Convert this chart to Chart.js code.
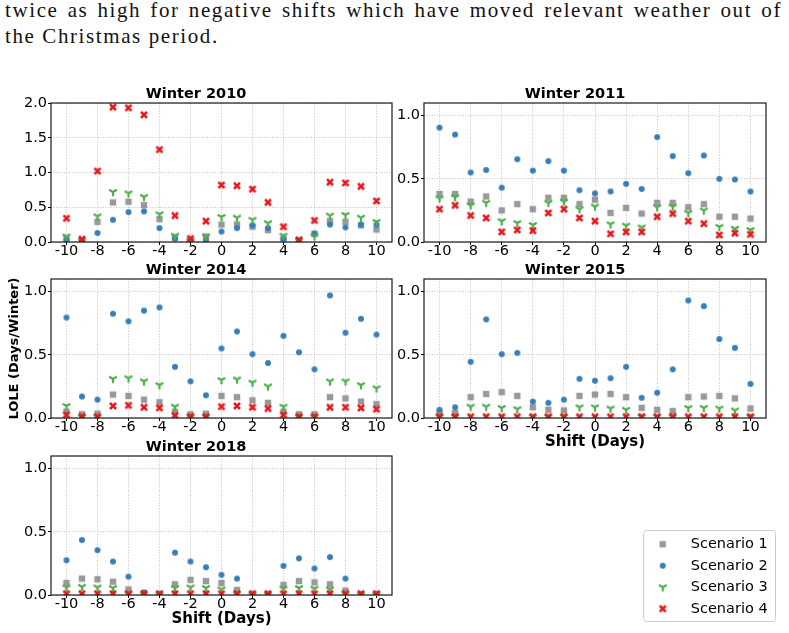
<!DOCTYPE html>
<html>
<head>
<meta charset="utf-8">
<script src="https://cdn.jsdelivr.net/npm/chart.js@4.4.0/dist/chart.umd.min.js"></script>
<style>
  html, body { margin: 0; padding: 0; background: #fff; }
  body { width: 789px; height: 633px; position: relative; overflow: hidden; }
  .para { position: absolute; left: 5px; width: 777px; font-family: 'Liberation Serif', serif; font-size: 21px; line-height: 26px; letter-spacing: 1.6px; color: #111; white-space: nowrap; }
  .line1 { top: -3px; text-align: justify; text-align-last: justify; }
  .line2 { top: 23px; }
  canvas { position: absolute; }
</style>
</head>
<body>
<div class="para line1">twice as high for negative shifts which have moved relevant weather out of</div>
<div class="para line2">the Christmas period.</div>

<canvas id="c2010" width="400" height="183" style="left:0px;top:83px"></canvas>
<canvas id="c2011" width="392" height="183" style="left:384px;top:83px"></canvas>
<canvas id="c2014" width="400" height="183" style="left:0px;top:259px"></canvas>
<canvas id="c2015" width="392" height="193" style="left:384px;top:259px"></canvas>
<canvas id="c2018" width="400" height="193" style="left:0px;top:436px"></canvas>
<canvas id="legendBox" width="150" height="99" style="left:635px;top:527px"></canvas>

<script>
// shift in days, one value per point
const shifts = [-10, -9, -8, -7, -6, -5, -4, -3, -2, -1, 0, 1, 2, 3, 4, 5, 6, 7, 8, 9, 10]
const xTicks = [-10, -8, -6, -4, -2, 0, 2, 4, 6, 8, 10]
const yTicks2010 = [0, 0.5, 1.0, 1.5, 2.0]
const yTicks = [0, 0.5, 1.0]

const scenarioNames = ['Scenario 1', 'Scenario 2', 'Scenario 3', 'Scenario 4']
const scenarioColors = ['#999999', '#377eb8', '#4daf4a', '#e41a1c']

// LOLE (days/winter)
const w2010s1 = [0.05, 0.02, 0.29, 0.57, 0.58, 0.53, 0.33, 0.06, 0.02, 0.08, 0.25, 0.25, 0.22, 0.17, 0.05, 0.02, 0.12, 0.30, 0.29, 0.24, 0.18]
const w2010s2 = [0.03, 0.01, 0.13, 0.32, 0.43, 0.44, 0.20, 0.05, 0.01, 0.02, 0.15, 0.20, 0.24, 0.20, 0.04, 0.01, 0.12, 0.25, 0.21, 0.25, 0.25]
const w2010s3 = [0.08, 0.02, 0.37, 0.72, 0.70, 0.65, 0.40, 0.09, 0.02, 0.08, 0.36, 0.35, 0.32, 0.27, 0.09, 0.02, 0.08, 0.38, 0.39, 0.35, 0.29]
const w2010s4 = [0.34, 0.04, 1.02, 1.94, 1.93, 1.83, 1.33, 0.38, 0.05, 0.30, 0.82, 0.81, 0.76, 0.57, 0.22, 0.03, 0.31, 0.86, 0.85, 0.80, 0.59]

const w2011s1 = [0.38, 0.38, 0.32, 0.36, 0.25, 0.30, 0.26, 0.35, 0.35, 0.30, 0.335, 0.23, 0.27, 0.225, 0.31, 0.31, 0.275, 0.30, 0.20, 0.20, 0.185]
const w2011s2 = [0.905, 0.85, 0.55, 0.57, 0.43, 0.655, 0.565, 0.64, 0.565, 0.41, 0.385, 0.40, 0.46, 0.42, 0.83, 0.68, 0.545, 0.685, 0.50, 0.495, 0.40]
const w2011s3 = [0.345, 0.355, 0.29, 0.31, 0.165, 0.15, 0.135, 0.31, 0.32, 0.26, 0.28, 0.14, 0.13, 0.115, 0.275, 0.28, 0.23, 0.25, 0.12, 0.105, 0.095]
const w2011s4 = [0.26, 0.29, 0.21, 0.19, 0.08, 0.095, 0.09, 0.23, 0.26, 0.19, 0.165, 0.065, 0.08, 0.08, 0.20, 0.225, 0.165, 0.145, 0.055, 0.07, 0.06]

const w2014s1 = [0.05, 0.03, 0.035, 0.185, 0.175, 0.145, 0.125, 0.05, 0.03, 0.035, 0.175, 0.165, 0.14, 0.12, 0.05, 0.03, 0.03, 0.165, 0.155, 0.13, 0.11]
const w2014s2 = [0.795, 0.17, 0.145, 0.825, 0.765, 0.85, 0.875, 0.405, 0.29, 0.18, 0.55, 0.685, 0.505, 0.435, 0.65, 0.52, 0.385, 0.97, 0.675, 0.785, 0.66]
const w2014s3 = [0.095, 0.01, 0.01, 0.31, 0.315, 0.29, 0.26, 0.09, 0.01, 0.01, 0.30, 0.305, 0.28, 0.25, 0.09, 0.01, 0.01, 0.29, 0.29, 0.26, 0.235]
const w2014s4 = [0.025, 0.01, 0.01, 0.095, 0.10, 0.085, 0.08, 0.02, 0.01, 0.01, 0.09, 0.095, 0.085, 0.075, 0.025, 0.01, 0.01, 0.085, 0.085, 0.08, 0.07]

const w2015s1 = [0.04, 0.04, 0.165, 0.19, 0.205, 0.175, 0.085, 0.065, 0.06, 0.175, 0.185, 0.19, 0.165, 0.08, 0.065, 0.055, 0.165, 0.17, 0.175, 0.155, 0.075]
const w2015s2 = [0.065, 0.085, 0.445, 0.78, 0.505, 0.515, 0.13, 0.12, 0.145, 0.31, 0.295, 0.315, 0.405, 0.16, 0.20, 0.385, 0.93, 0.885, 0.625, 0.555, 0.27]
const w2015s3 = [0.01, 0.01, 0.09, 0.09, 0.08, 0.07, 0.01, 0.01, 0.01, 0.085, 0.085, 0.075, 0.065, 0.01, 0.01, 0.01, 0.08, 0.08, 0.075, 0.06, 0.01]
const w2015s4 = [0.01, 0.01, 0.01, 0.01, 0.01, 0.01, 0.01, 0.01, 0.01, 0.01, 0.01, 0.01, 0.01, 0.01, 0.01, 0.01, 0.01, 0.01, 0.01, 0.01, 0.01]

const w2018s1 = [0.095, 0.13, 0.125, 0.105, 0.045, 0.01, 0.005, 0.085, 0.12, 0.11, 0.095, 0.04, 0.005, 0.005, 0.08, 0.11, 0.10, 0.085, 0.035, 0.005, 0.005]
const w2018s2 = [0.275, 0.435, 0.355, 0.265, 0.145, 0.02, 0.005, 0.335, 0.265, 0.22, 0.16, 0.13, 0.005, 0.005, 0.23, 0.29, 0.21, 0.30, 0.13, 0.005, 0.005]
const w2018s3 = [0.06, 0.065, 0.06, 0.055, 0.01, 0.005, 0.005, 0.055, 0.06, 0.055, 0.045, 0.01, 0.005, 0.005, 0.05, 0.055, 0.05, 0.045, 0.01, 0.005, 0.005]
const w2018s4 = [0.01, 0.01, 0.01, 0.01, 0.01, 0.01, 0.01, 0.01, 0.01, 0.01, 0.01, 0.01, 0.01, 0.01, 0.01, 0.01, 0.01, 0.01, 0.01, 0.01, 0.01]

Chart.defaults.font.family = "'DejaVu Sans', sans-serif"
Chart.defaults.color = '#000'

// matplotlib-like markers: square, circle, tri_down, X
function makeMarker(kind, color) {
  const c = document.createElement('canvas')
  c.width = 12
  c.height = 12
  const g = c.getContext('2d')
  const m = 6
  g.fillStyle = color
  g.strokeStyle = color
  if (kind === 0) {
    g.fillRect(m - 3.2, m - 3.2, 6.4, 6.4)
  } else if (kind === 1) {
    g.beginPath()
    g.arc(m, m, 3, 0, Math.PI * 2)
    g.fill()
  } else if (kind === 2) {
    g.lineWidth = 2.2
    g.beginPath()
    g.moveTo(m, m); g.lineTo(m, m + 4.2)
    g.moveTo(m, m); g.lineTo(m - 3.8, m - 2.3)
    g.moveTo(m, m); g.lineTo(m + 3.8, m - 2.3)
    g.stroke()
  } else {
    g.lineWidth = 2.5
    g.beginPath()
    g.moveTo(m - 3, m - 3); g.lineTo(m + 3, m + 3)
    g.moveTo(m + 3, m - 3); g.lineTo(m - 3, m + 3)
    g.stroke()
  }
  return c
}
const markers = scenarioColors.map((col, i) => makeMarker(i, col))

const framePlugin = {
  id: 'frame',
  afterDatasetsDraw(chart) {
    const { ctx, chartArea: a } = chart
    ctx.save()
    ctx.strokeStyle = '#1a1a1a'
    ctx.lineWidth = 1.2
    ctx.strokeRect(a.left, a.top, a.right - a.left, a.bottom - a.top)
    ctx.restore()
  },
}

function buildPanel(id, title, series, yMax, yTickValues, cfg) {
  const datasets = series.map((vals, i) => ({
    label: scenarioNames[i],
    data: shifts.map((s, k) => ({ x: s, y: vals[k] })),
    pointStyle: markers[i],
    pointRadius: 4,
    order: 3 - i,
    clip: 0,
  }))

  new Chart(document.getElementById(id), {
    type: 'scatter',
    data: { datasets },
    options: {
      responsive: false,
      animation: false,
      events: [],
      layout: { padding: { left: 0, right: cfg.padRight, top: 0, bottom: 0 } },
      plugins: {
        legend: { display: false },
        tooltip: { enabled: false },
        title: {
          display: true,
          text: title,
          color: '#000',
          font: { size: 14.5, weight: 'bold', lineHeight: 1 },
          padding: { top: 3.5, bottom: 2 },
        },
      },
      scales: {
        x: {
          type: 'linear',
          min: -11,
          max: 11,
          afterBuildTicks: (axis) => { axis.ticks = xTicks.map((v) => ({ value: v })) },
          afterFit: (axis) => { axis.height = cfg.xH },
          ticks: {
            font: { size: 14.5, lineHeight: 1 },
            color: '#000',
            padding: -1,
            maxRotation: 0,
            callback: (v) => String(v),
          },
          grid: { color: '#b5b5b5', lineWidth: 0.8, tickLength: 3, tickColor: '#000', tickWidth: 1, tickBorderDash: [] },
          border: { display: false, dash: [1, 1.6] },
          title: cfg.xTitle ? {
            display: true,
            text: 'Shift (Days)',
            color: '#000',
            font: { size: 15, weight: 'bold', lineHeight: 1 },
            padding: { top: 0, bottom: 2.5 },
          } : { display: false },
        },
        y: {
          type: 'linear',
          min: 0,
          max: yMax,
          afterBuildTicks: (axis) => { axis.ticks = yTickValues.map((v) => ({ value: v })) },
          afterFit: (axis) => { axis.width = cfg.yW },
          ticks: {
            font: { size: 14.5 },
            color: '#000',
            padding: 1,
            callback: (v) => v.toFixed(1),
          },
          grid: { color: '#b5b5b5', lineWidth: 0.8, tickLength: 3, tickColor: '#000', tickWidth: 1, tickBorderDash: [] },
          border: { display: false, dash: [1, 1.6] },
          title: cfg.yTitle ? {
            display: true,
            text: 'LOLE (Days/Winter)',
            color: '#000',
            font: { size: 13, weight: 'bold', lineHeight: 1 },
            padding: { top: 8.5, bottom: 0 },
          } : { display: false },
        },
      },
    },
    plugins: [framePlugin],
  })
}

buildPanel('c2010', 'Winter 2010', [w2010s1, w2010s2, w2010s3, w2010s4], 2.0, yTicks2010, { yW: 51, xH: 24, padRight: 8 })
buildPanel('c2011', 'Winter 2011', [w2011s1, w2011s2, w2011s3, w2011s4], 1.1, yTicks, { yW: 40, xH: 24, padRight: 10 })
buildPanel('c2014', 'Winter 2014', [w2014s1, w2014s2, w2014s3, w2014s4], 1.1, yTicks, { yW: 51, xH: 24, padRight: 8, yTitle: true })
buildPanel('c2015', 'Winter 2015', [w2015s1, w2015s2, w2015s3, w2015s4], 1.1, yTicks, { yW: 40, xH: 34, padRight: 10, xTitle: true })
buildPanel('c2018', 'Winter 2018', [w2018s1, w2018s2, w2018s3, w2018s4], 1.1, yTicks, { yW: 51, xH: 34, padRight: 8, xTitle: true })

// legend lives in its own chart in the empty bottom-right slot
const legendFrame = {
  id: 'legendFrame',
  beforeDraw(chart) {
    const ctx = chart.ctx
    ctx.save()
    ctx.fillStyle = '#fff'
    ctx.strokeStyle = '#cccccc'
    ctx.lineWidth = 1
    ctx.beginPath()
    ctx.roundRect(8.5, 3.5, 132, 91, 3)
    ctx.fill()
    ctx.stroke()
    ctx.restore()
  },
}

new Chart(document.getElementById('legendBox'), {
  type: 'scatter',
  data: {
    datasets: scenarioNames.map((name, i) => ({
      label: name,
      data: [],
      pointStyle: markers[i],
      backgroundColor: scenarioColors[i],
      borderColor: scenarioColors[i],
    })),
  },
  options: {
    responsive: false,
    animation: false,
    events: [],
    layout: { padding: 0 },
    scales: { x: { display: false }, y: { display: false } },
    plugins: {
      tooltip: { enabled: false },
      legend: {
        position: 'left',
        align: 'center',
        maxWidth: 200,
        labels: {
          usePointStyle: true,
          pointStyleWidth: 41.5,
          padding: 7,
          color: '#000',
          font: { size: 14.5 },
        },
      },
    },
  },
  plugins: [legendFrame],
})
</script>
</body>
</html>
